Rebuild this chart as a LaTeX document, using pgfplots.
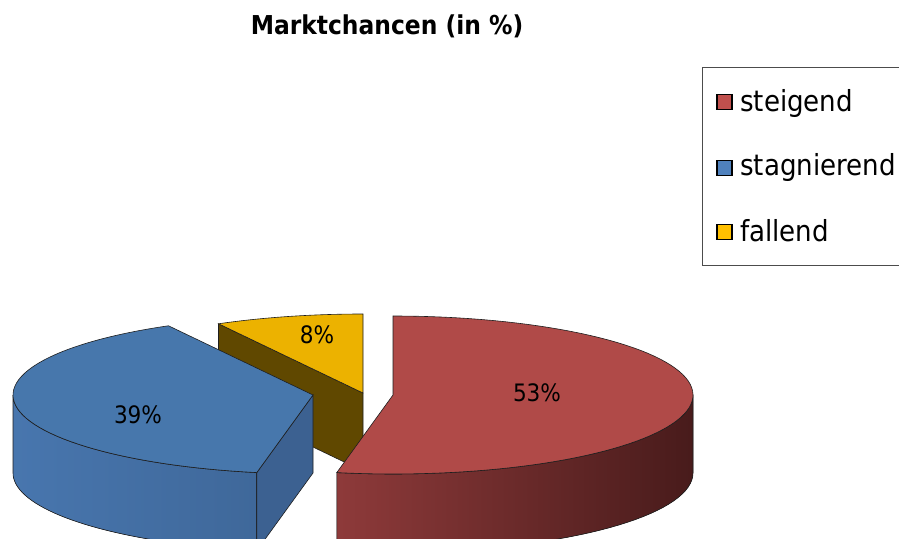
\documentclass[border=0pt]{standalone}
\usepackage{fontspec}
\setmainfont{DejaVu Sans Condensed}
\usepackage{pgfplots}
\pgfplotsset{compat=1.18}
\usepgfplotslibrary{fillbetween}

\definecolor{redtop}{RGB}{176,74,72}
\definecolor{redsideL}{RGB}{142,58,58}
\definecolor{redsideR}{RGB}{72,27,27}
\definecolor{bluetop}{RGB}{71,119,172}
\definecolor{bluesideL}{RGB}{72,118,174}
\definecolor{bluesideR}{RGB}{63,104,154}
\definecolor{blueface}{RGB}{60,97,145}
\definecolor{yeltop}{RGB}{236,178,0}
\definecolor{yelface}{RGB}{96,72,0}
\definecolor{legred}{RGB}{192,80,77}
\definecolor{legblue}{RGB}{79,129,189}
\definecolor{legyel}{RGB}{255,192,0}
\definecolor{edge}{RGB}{30,30,30}

% data (percent)
\def\valSteigend{53}
\def\valStag{39}
\def\valFall{8}

\begin{document}
\begin{tikzpicture}
\pgfmathsetmacro\tA{\valSteigend*3.6}
\pgfmathsetmacro\tB{(\valSteigend+\valStag)*3.6}
\pgfmathsetmacro\tC{(\valSteigend+\valStag+\valFall)*3.6}
\def\rx{300}
\def\ry{79}
\def\hh{78}
% centres of the exploded slices
\def\rcx{393}\def\rcy{144}
\def\bcx{313}\def\bcy{144}
\def\ycx{363}\def\ycy{146}
\pgfmathsetmacro\rcyb{\rcy-\hh}
\pgfmathsetmacro\bcyb{\bcy-\hh}
\pgfmathsetmacro\ycyb{\ycy-\hh}
% blue radial face at tA
\pgfmathsetmacro\bpx{\bcx+\rx*sin(\tA)}
\pgfmathsetmacro\bpy{\bcy+\ry*cos(\tA)}
\pgfmathsetmacro\bpyb{\bpy-\hh}
% yellow radial face at tB
\pgfmathsetmacro\ypx{\ycx+\rx*sin(\tB)}
\pgfmathsetmacro\ypy{\ycy+\ry*cos(\tB)}
\pgfmathsetmacro\ypyb{\ypy-\hh}
\begin{axis}[
  width=899bp, height=539bp, scale only axis,
  xmin=0, xmax=899, ymin=0, ymax=539,
  axis line style={draw=none}, xtick=\empty, ytick=\empty,
  clip=true,
]
\coordinate (SW) at (rel axis cs:0,0);
\coordinate (NE) at (rel axis cs:1,1);

% ---------- yellow (fallend) ----------
\addplot[fill=yelface, draw=edge, line width=0.6bp]
  coordinates {(\ycx,\ycy) (\ypx,\ypy) (\ypx,\ypyb) (\ycx,\ycyb)} -- cycle;
\addplot[fill=yeltop, draw=edge, line width=0.6bp, domain=\tB:\tC, samples=30, variable=\t]
  ({\ycx+\rx*sin(\t)},{\ycy+\ry*cos(\t)}) -- (axis cs:\ycx,\ycy) -- cycle;

% ---------- blue (stagnierend) ----------
\addplot[draw=none, name path=btop, domain=\tA:270, samples=40, variable=\t]
  ({\bcx+\rx*sin(\t)},{\bcy+\ry*cos(\t)});
\addplot[draw=none, name path=bbot, domain=\tA:270, samples=40, variable=\t]
  ({\bcx+\rx*sin(\t)},{\bcyb+\ry*cos(\t)});
\addplot[left color=bluesideL, right color=bluesideR, draw=edge, line width=0.6bp]
  fill between[of=btop and bbot];
\addplot[fill=blueface, draw=edge, line width=0.6bp]
  coordinates {(\bcx,\bcy) (\bpx,\bpy) (\bpx,\bpyb) (\bcx,\bcyb)} -- cycle;
\addplot[fill=bluetop, draw=edge, line width=0.6bp, domain=\tA:\tB, samples=60, variable=\t]
  ({\bcx+\rx*sin(\t)},{\bcy+\ry*cos(\t)}) -- (axis cs:\bcx,\bcy) -- cycle;

% ---------- red (steigend) ----------
\addplot[draw=none, name path=rtop, domain=90:\tA, samples=40, variable=\t]
  ({\rcx+\rx*sin(\t)},{\rcy+\ry*cos(\t)});
\addplot[draw=none, name path=rbot, domain=90:\tA, samples=40, variable=\t]
  ({\rcx+\rx*sin(\t)},{\rcyb+\ry*cos(\t)});
\addplot[left color=redsideL, right color=redsideR, draw=edge, line width=0.6bp]
  fill between[of=rtop and rbot];
\addplot[fill=redtop, draw=edge, line width=0.6bp, domain=0:\tA, samples=80, variable=\t]
  ({\rcx+\rx*sin(\t)},{\rcy+\ry*cos(\t)}) -- (axis cs:\rcx,\rcy) -- cycle;

% ---------- slice labels ----------
\node[font=\fontsize{24bp}{28bp}\selectfont] at (axis cs:537,146) {53\%};
\node[font=\fontsize{24bp}{28bp}\selectfont] at (axis cs:138,124) {39\%};
\node[font=\fontsize{24bp}{28bp}\selectfont] at (axis cs:317,204) {8\%};

% ---------- title ----------
\node[font=\fontsize{26bp}{30bp}\selectfont\bfseries] at (axis cs:387,513) {Marktchancen (in \%)};

% ---------- legend ----------
\draw[draw=black!70, line width=1bp] (axis cs:899,471) -- (axis cs:702,471) -- (axis cs:702,273) -- (axis cs:899,273);
\filldraw[fill=legred, draw=black, line width=1.5bp] (axis cs:717,429.5) rectangle (axis cs:732,444.5);
\filldraw[fill=legblue, draw=black, line width=1.5bp] (axis cs:717,363.5) rectangle (axis cs:732,378.5);
\filldraw[fill=legyel, draw=black, line width=1.5bp] (axis cs:717,299.5) rectangle (axis cs:732,314.5);
\node[font=\fontsize{29bp}{33bp}\selectfont, anchor=base west, inner sep=0pt] at (axis cs:740,427) {steigend};
\node[font=\fontsize{29bp}{33bp}\selectfont, anchor=base west, inner sep=0pt] at (axis cs:740,363) {stagnierend};
\node[font=\fontsize{29bp}{33bp}\selectfont, anchor=base west, inner sep=0pt] at (axis cs:740,297) {fallend};
\end{axis}
\pgfresetboundingbox
\path[use as bounding box] (SW) rectangle (NE);
\end{tikzpicture}
\end{document}
